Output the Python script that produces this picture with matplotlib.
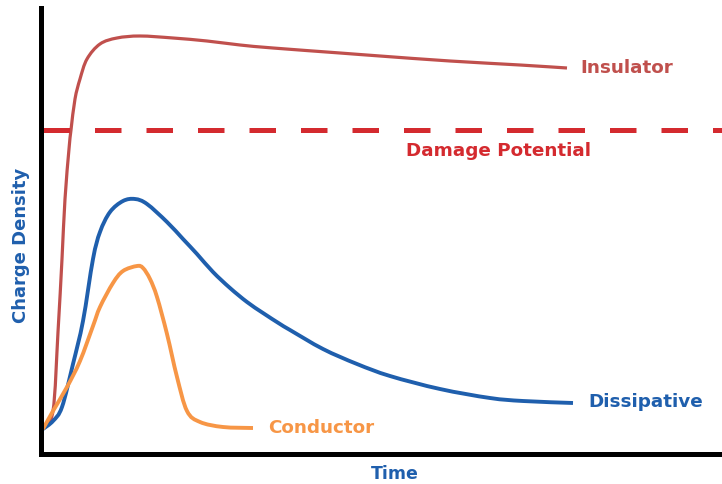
import matplotlib.pyplot as plt
from matplotlib.path import Path
from matplotlib.patches import PathPatch

# curves (time, charge) in chart units
ins_t = [2, 12, 17, 21, 24, 28, 30, 34, 39, 46, 59, 76, 99, 132, 166, 199, 232, 299, 339, 409, 479, 526]
ins_q = [25, 43, 122, 195, 255, 305, 324, 355, 375, 395, 410, 416, 418, 416, 413, 409, 406, 401, 398, 393, 389, 386]

dis_t = [2, 12, 21, 32, 42, 52, 59, 69, 82, 94, 106, 126, 142, 156, 172, 189, 206, 222, 239, 249,
         282, 316, 349, 399, 449, 482, 532]
dis_q = [25, 33, 47, 90, 133, 195, 222, 242, 253, 255, 250, 232, 215, 200, 182, 166, 152, 141, 130, 124,
         105, 90, 78, 65, 56, 53, 51]

con_t = [2, 12, 26, 39, 52, 59, 72, 82, 96, 102, 109, 116, 126, 136, 146, 159, 182, 212]
con_q = [25, 43, 67, 93, 128, 147, 171, 183, 188, 186, 175, 157, 120, 77, 43, 32, 27, 26]

damage_level = 324


def smooth_path(xs, ys):
    # Catmull-Rom through the read points, drawn as cubic Bezier segments
    pts = list(zip(xs, ys))
    verts = [pts[0]]
    codes = [Path.MOVETO]
    for i in range(len(pts) - 1):
        p0 = pts[i - 1] if i > 0 else pts[i]
        p1 = pts[i]
        p2 = pts[i + 1]
        p3 = pts[i + 2] if i + 2 < len(pts) else p2
        c1 = (p1[0] + (p2[0] - p0[0]) / 6, p1[1] + (p2[1] - p0[1]) / 6)
        c2 = (p2[0] - (p3[0] - p1[0]) / 6, p2[1] - (p3[1] - p1[1]) / 6)
        verts += [c1, c2, p2]
        codes += [Path.CURVE4] * 3
    return Path(verts, codes)


plt.rcParams['font.family'] = ['DejaVu Sans']

fig = plt.figure(figsize=(7.22, 4.85), dpi=100)
ax = fig.add_axes([41 / 722, 30 / 485, 681 / 722, 446 / 485])
ax.set_xlim(0, 681)
ax.set_ylim(0, 446)

for xs, ys, col, lw in [(ins_t, ins_q, '#c0504d', 2.3),
                        (dis_t, dis_q, '#1f5fad', 2.8),
                        (con_t, con_q, '#f79646', 2.8)]:
    ax.add_patch(PathPatch(smooth_path(xs, ys), facecolor='none', edgecolor=col,
                           lw=lw, capstyle='butt'))

ax.axhline(damage_level, xmin=2 / 681, color='#d42a2f', lw=3.6, dashes=(5.3, 5.0))

lab = dict(fontsize=13.2, fontweight='bold', va='center')
ax.text(539, 387, 'Insulator', color='#c0504d', **lab)
ax.text(458, 304, 'Damage Potential', color='#d42a2f', ha='center', **lab)
ax.text(547, 53, 'Dissipative', color='#1f5fad', **lab)
ax.text(227, 27, 'Conductor', color='#f79646', **lab)

ax.set_xlabel('Time', color='#1f5fad', fontsize=12.5, fontweight='bold')
ax.set_ylabel('Charge Density', color='#1f5fad', fontsize=13, fontweight='bold')
ax.xaxis.set_label_coords(0.52, -0.022)
ax.yaxis.set_label_coords(-0.016, 0.471)

ax.set_xticks([])
ax.set_yticks([])
for side in ['top', 'right']:
    ax.spines[side].set_visible(False)
for side in ['left', 'bottom']:
    ax.spines[side].set_linewidth(3.6)
    ax.spines[side].set_color('black')

fig.savefig('out.png', dpi=100)
